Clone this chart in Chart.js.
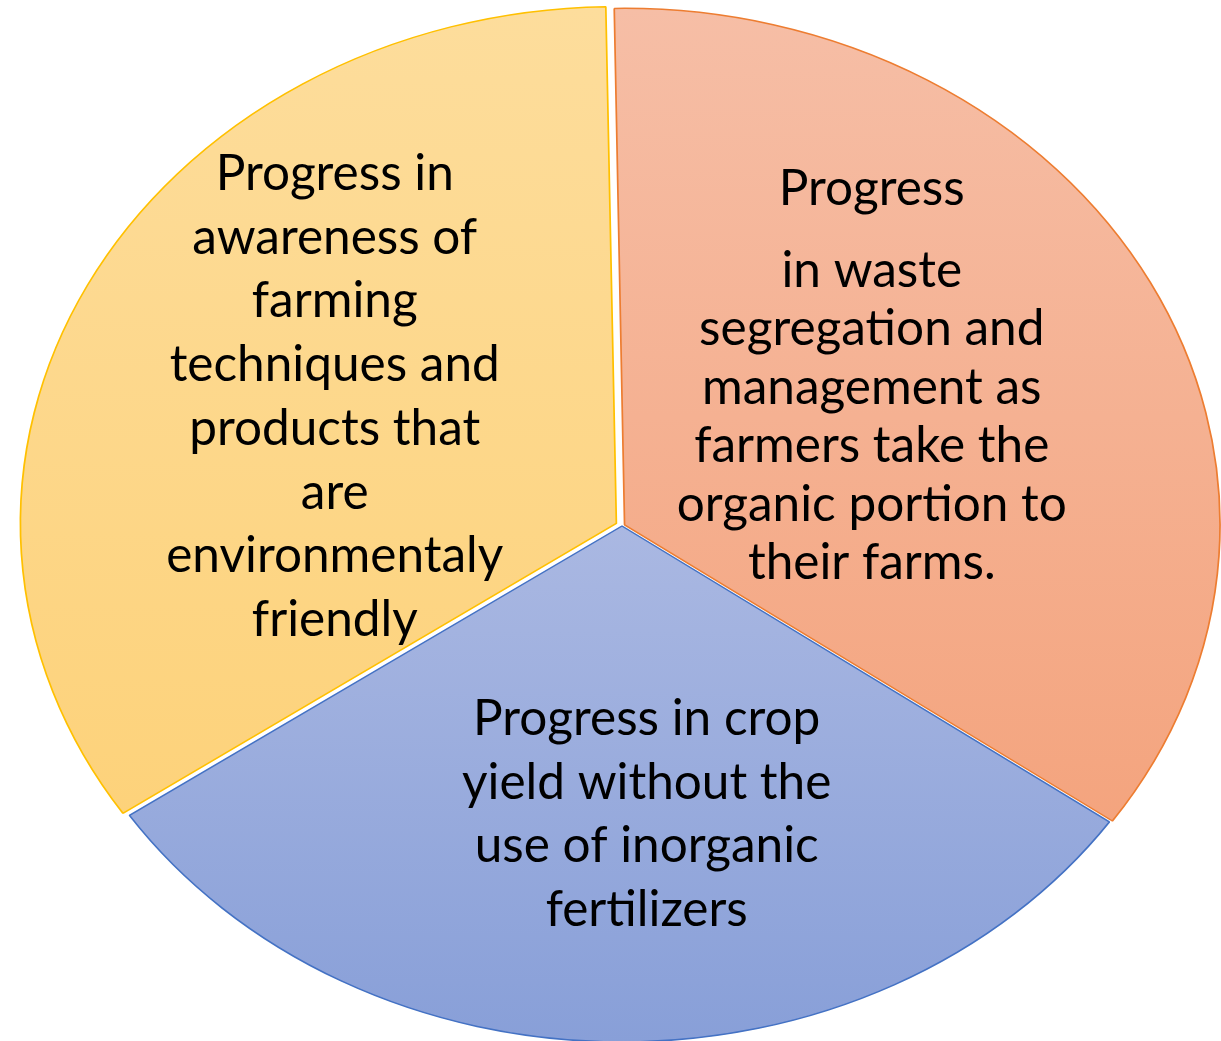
<!DOCTYPE html>
<html>
<head>
<meta charset="utf-8">
<script src="https://cdn.jsdelivr.net/npm/chart.js@4.4.1/dist/chart.umd.min.js"></script>
<style>
  html, body { margin: 0; padding: 0; background: #fff; }
  #wrap { width: 1221px; height: 1041px; }
</style>
</head>
<body>
<div id="wrap"><canvas id="pie"></canvas></div>
<script>
// slices run clockwise from the top: orange, blue, yellow
const categories = [
  [["Progress"], ["in waste", "segregation and", "management as", "farmers take the", "organic portion to", "their farms."]],
  [["Progress in crop", "yield without the", "use of inorganic", "fertilizers"]],
  [["Progress in", "awareness of", "farming", "techniques and", "products that", "are", "environmentaly", "friendly"]]
];
const shares = [35, 30.8, 34.2];

const topColors = ['#F6BEA6', '#AAB8E2', '#FDDD9C'];
const bottomColors = ['#F4A47E', '#889FD8', '#FDD27A'];
const edgeColors = ['#ED7D31', '#4472C4', '#FFC000'];

const radius = 516;
const stretchX = 1.153;   // the pie is an oval, wider than tall
const lineGap = [58.5, 63.7, 63.7];
const paraGap = 23.5;
const labelShift = [[-18, -10.5], [27, 46.5], [-12, 11]];

function sliceGradient(context) {
  const chart = context.chart;
  const area = chart.chartArea;
  if (!area) return topColors[context.dataIndex];
  const cy = (area.top + area.bottom) / 2;
  const i = context.dataIndex;
  let y0 = cy - radius, y1 = cy + radius * 0.58;
  if (i === 1) { y0 = cy; y1 = cy + radius; }
  const g = chart.ctx.createLinearGradient(0, y0, 0, y1);
  g.addColorStop(0, topColors[i]);
  g.addColorStop(1, bottomColors[i]);
  return g;
}

// squash the round pie into an oval around its centre
const ovalPlugin = {
  id: 'oval',
  beforeDatasetsDraw(chart) {
    const arc = chart.getDatasetMeta(0).data[0];
    const ctx = chart.ctx;
    ctx.save();
    ctx.translate(arc.x, 0);
    ctx.scale(stretchX, 1);
    ctx.translate(-arc.x, 0);
  },
  afterDatasetsDraw(chart) {
    chart.ctx.restore();
  }
};

const textPlugin = {
  id: 'sliceText',
  afterDraw(chart) {
    const ctx = chart.ctx;
    const meta = chart.getDatasetMeta(0);
    ctx.save();
    ctx.fillStyle = '#000';
    ctx.font = '49.5px Lato';
    ctx.textAlign = 'center';
    ctx.textBaseline = 'alphabetic';
    meta.data.forEach((arc, i) => {
      const p = arc.tooltipPosition();
      const ax = arc.x + (p.x - arc.x) * stretchX + labelShift[i][0];
      const ay = p.y + labelShift[i][1];
      const paras = categories[i];
      let total = 0;
      paras.forEach((lines, k) => {
        total += (lines.length - 1) * lineGap[i];
        if (k > 0) total += lineGap[i] + paraGap;
      });
      let y = ay - total / 2;
      paras.forEach((lines, k) => {
        if (k > 0) y += lineGap[i] + paraGap;
        lines.forEach((line, j) => {
          if (j > 0) y += lineGap[i];
          ctx.fillText(line, ax, y);
        });
      });
    });
    ctx.restore();
  }
};

new Chart(document.getElementById('pie'), {
  type: 'pie',
  data: {
    labels: categories.map(c => c.flat().join(' ')),
    datasets: [{
      data: shares,
      backgroundColor: sliceGradient,
      borderColor: edgeColors,
      borderWidth: 1.5,
      offset: [10, 0, 22],
      hoverOffset: 0,
      radius: radius,
      clip: false
    }]
  },
  options: {
    responsive: true,
    maintainAspectRatio: false,
    animation: false,
    rotation: -1,
    layout: { padding: { left: 23, right: 0, top: 11, bottom: 0 } },
    plugins: {
      legend: { display: false },
      tooltip: { enabled: false }
    }
  },
  plugins: [ovalPlugin, textPlugin]
});
</script>
</body>
</html>
